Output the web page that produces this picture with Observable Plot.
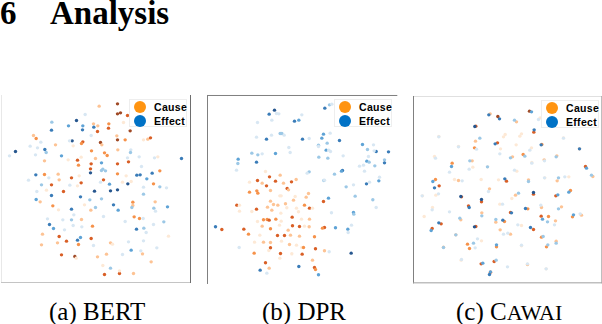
<!DOCTYPE html>
<html><head><meta charset="utf-8">
<script src="https://cdn.jsdelivr.net/npm/d3@7"></script>
<script src="https://cdn.jsdelivr.net/npm/@observablehq/plot@0.6"></script>
<style>
html,body{margin:0;padding:0;background:#fff}
#root{position:relative;width:602px;height:324px;overflow:hidden;font-family:"Liberation Serif",serif;color:#000}
.panel{position:absolute}
.panel svg{overflow:visible;display:block}
.hd{position:absolute;margin:0;top:-3px;font:bold 33px/32px "Liberation Serif",serif;white-space:pre}
.cap{position:absolute;top:297px;font-size:25px;line-height:30px;white-space:nowrap}
.cap small{font-size:.88em}
.legend{position:absolute;background:#fff;border:1px solid #eee;width:58px;height:28px;font:bold 10.5px/14px "Liberation Sans",sans-serif;letter-spacing:.3px;box-sizing:border-box}
.legend div{position:relative;height:14px;padding-left:24px;white-space:nowrap}
.legend i{position:absolute;left:3.5px;top:.5px;width:12.5px;height:12.5px;border-radius:50%}
</style></head><body><div id="root"></div>
<script>
// Projection coordinates and a 1 (weak) to 5 (strong) score per point: [x, y, score]
const bertCause=[[297,47,2],[352,40,5],[352,70,5],[361,67,5],[382,75,4],[280,100,2],[293,106,2],[326,100,3],[325,113,4],[292,123,4],[370,96,1],[390,121,5],[350,136,2],[100,135,2],[108,144,3],[352,148,5],[375,148,3],[430,148,1],[443,146,2],[451,142,4],[248,154,4],[244,159,3],[166,163,2],[301,156,5],[305,163,2],[219,166,1],[274,181,3],[353,178,2],[313,187,3],[321,195,3],[286,204,2],[243,200,1],[204,208,1],[232,209,4],[133,211,2],[235,224,3],[273,220,4],[352,220,4],[385,214,4],[473,199,1],[271,235,4],[479,241,3],[133,252,3],[174,251,2],[352,250,3],[378,256,1],[177,268,2],[214,262,4],[237,256,1],[243,277,4],[310,268,4],[367,275,1],[460,280,3],[232,286,1],[154,283,4],[190,303,4],[139,299,1],[393,273,1],[120,334,2],[158,346,3],[175,358,1],[253,343,1],[272,359,2],[398,335,3],[398,345,2],[465,334,2],[402,379,3],[418,384,3],[244,387,2],[277,407,3],[127,431,2],[177,438,4],[199,452,4],[172,457,2],[124,463,2],[235,462,3],[273,444,4],[331,457,2],[337,461,1],[505,437,1],[184,493,4],[224,498,5],[228,503,1],[292,499,2],[319,491,2],[427,490,2],[453,514,2],[308,525,1],[313,552,4],[358,549,4],[358,541,1],[400,549,2]];
const bertEffect=[[155,95,2],[229,90,5],[205,106,3],[248,106,3],[154,119,4],[247,118,4],[281,110,4],[255,72,1],[273,135,1],[216,151,5],[208,151,1],[122,155,1],[90,167,1],[112,172,1],[134,177,4],[138,186,2],[106,193,1],[46,183,5],[28,196,1],[184,196,3],[392,178,1],[391,186,2],[417,199,1],[463,202,1],[382,202,1],[544,204,4],[424,228,1],[304,217,3],[271,247,5],[304,240,2],[308,236,2],[316,241,2],[107,253,4],[146,262,1],[85,269,1],[124,283,2],[209,284,1],[410,254,4],[420,253,4],[456,248,4],[440,265,3],[383,280,5],[328,281,3],[301,275,1],[479,289,2],[499,292,1],[430,290,1],[283,302,5],[331,301,5],[352,298,5],[430,311,2],[154,315,4],[241,319,4],[108,327,3],[269,328,2],[304,325,2],[110,303,1],[340,343,4],[286,351,2],[214,356,4],[354,359,3],[395,351,2],[461,353,2],[466,362,1],[502,349,3],[221,373,1],[310,378,1],[142,385,1],[188,388,1],[214,388,2],[148,402,4],[160,414,3],[219,405,1],[193,418,1],[245,409,1],[375,393,1],[429,384,1],[491,394,2],[460,402,1],[409,416,4],[431,413,2],[438,426,1],[241,441,3],[232,449,4],[430,451,1],[385,454,1],[280,465,1],[470,472,1],[393,479,3],[422,481,1],[367,492,1],[331,533,2]];
const dprCause=[[196,242,1],[240,253,2],[208,258,4],[172,269,4],[226,271,4],[148,274,1],[186,277,2],[199,285,4],[250,277,2],[274,273,4],[288,266,2],[261,293,4],[265,297,2],[148,304,3],[170,300,3],[173,307,3],[211,299,2],[325,308,2],[318,319,2],[243,315,1],[239,315,1],[285,317,1],[280,328,2],[211,331,2],[220,341,2],[233,343,2],[256,339,2],[110,343,4],[118,343,1],[313,343,3],[370,332,4],[118,361,1],[155,362,1],[169,355,4],[202,349,2],[215,358,2],[260,351,1],[289,352,1],[295,363,1],[328,352,4],[337,352,1],[242,367,1],[276,379,4],[190,387,3],[201,386,3],[207,388,4],[227,385,3],[243,391,1],[304,385,1],[328,385,2],[172,392,1],[186,406,2],[211,414,3],[238,403,1],[277,405,4],[264,418,2],[298,407,4],[313,406,1],[327,408,2],[373,410,4],[367,412,3],[65,416,4],[131,415,4],[145,430,3],[179,433,1],[232,434,4],[253,434,4],[271,433,2],[298,436,2],[343,438,3],[163,454,1],[190,454,2],[211,455,2],[244,451,1],[268,461,2],[289,463,1],[305,470,1],[310,470,3],[211,471,4],[206,479,1],[346,474,4],[373,480,2],[162,487,3],[241,488,4],[275,489,1],[306,490,4],[239,502,1],[337,508,2],[196,516,4],[207,532,2],[343,530,4],[346,536,3]];
const dprEffect=[[223,58,5],[207,70,4],[229,68,1],[236,69,1],[305,72,1],[215,88,1],[283,91,4],[296,88,3],[172,95,1],[388,42,2],[395,40,1],[374,52,4],[169,139,1],[214,133,1],[240,128,2],[245,128,2],[252,133,1],[199,145,4],[307,145,4],[327,143,1],[370,130,3],[390,127,1],[365,142,3],[418,149,4],[381,157,2],[355,163,2],[355,167,1],[487,161,3],[520,162,1],[266,170,1],[270,185,1],[378,178,3],[391,182,1],[386,178,1],[502,176,2],[528,182,4],[522,180,1],[565,183,4],[155,187,2],[173,192,2],[186,189,1],[226,188,3],[114,205,3],[113,218,2],[169,214,4],[356,199,2],[383,202,2],[429,195,1],[505,197,1],[500,211,3],[507,214,2],[553,207,2],[553,216,4],[490,223,1],[524,225,2],[478,226,1],[109,238,1],[327,243,2],[321,247,1],[427,239,4],[424,241,3],[403,250,2],[493,241,1],[371,269,2],[373,268,1],[536,270,3],[538,259,1],[499,279,4],[508,274,1],[438,288,2],[460,282,1],[465,316,2],[385,322,3],[518,327,2],[528,350,1],[394,366,1],[460,365,3],[461,370,2],[46,408,4],[406,411,3],[443,415,3],[454,403,1],[444,425,1],[117,470,1],[387,483,1],[453,487,5],[296,527,4],[180,538,4],[200,547,1],[355,552,3]];
const cawaiCause=[[255,70,2],[278,78,5],[373,62,5],[334,94,2],[405,82,1],[212,107,4],[386,125,4],[101,138,1],[211,152,2],[160,168,1],[277,157,4],[300,132,1],[295,139,1],[349,130,1],[344,137,1],[410,162,3],[475,142,1],[523,175,2],[208,172,3],[286,175,1],[379,172,1],[333,163,1],[322,199,2],[354,192,3],[455,196,2],[88,198,1],[201,211,2],[417,208,2],[380,216,1],[141,218,3],[203,230,1],[247,229,1],[335,242,1],[541,228,4],[563,258,2],[91,267,3],[148,267,1],[160,270,2],[304,272,4],[370,268,2],[419,262,1],[456,271,2],[491,259,1],[102,286,4],[253,295,2],[92,314,1],[52,316,1],[169,319,4],[229,334,4],[385,311,4],[331,314,2],[452,316,4],[496,300,3],[82,351,1],[190,346,4],[284,341,1],[316,366,4],[368,355,3],[409,351,2],[469,349,2],[529,374,2],[230,367,2],[167,388,2],[408,377,4],[430,378,3],[502,379,3],[272,395,2],[298,393,3],[451,391,2],[108,400,4],[212,408,4],[349,405,1],[81,414,4],[385,417,4],[285,418,2],[316,431,2],[152,433,2],[409,440,3],[229,451,1],[453,452,2],[424,469,3],[187,461,3],[193,474,3],[115,470,2],[274,469,3],[349,466,1],[168,509,1],[228,520,4],[267,513,4],[367,522,2],[423,535,1],[256,545,4],[57,378,1],[228,267,1],[280,268,1],[320,324,1]];
const cawaiEffect=[[251,73,4],[283,85,4],[379,64,3],[328,89,2],[400,87,1],[209,108,5],[387,118,4],[101,139,1],[224,143,2],[160,169,1],[270,160,4],[408,163,4],[475,143,1],[523,175,4],[214,176,1],[284,190,1],[374,179,1],[316,202,2],[359,197,2],[453,199,2],[91,203,1],[194,211,2],[418,211,1],[380,218,1],[139,228,3],[133,245,1],[192,236,1],[247,229,2],[328,239,1],[544,233,3],[559,254,2],[83,273,3],[171,271,1],[299,265,4],[370,273,2],[418,262,1],[460,262,2],[479,259,1],[88,292,4],[250,303,1],[100,310,1],[51,316,1],[167,318,5],[229,327,5],[385,306,5],[340,308,2],[458,313,3],[491,305,3],[81,358,1],[192,351,4],[292,341,1],[319,367,4],[361,354,4],[407,344,1],[460,355,2],[525,370,1],[133,364,1],[230,376,2],[164,383,2],[412,386,3],[427,394,2],[505,373,3],[272,387,2],[293,389,4],[448,403,1],[101,397,4],[208,409,5],[338,403,1],[78,420,3],[376,411,4],[295,431,1],[308,428,1],[152,433,2],[414,438,2],[217,445,1],[453,458,2],[428,463,2],[205,458,2],[210,472,1],[115,471,2],[274,463,3],[349,464,1],[169,507,1],[233,518,3],[273,509,2],[367,520,1],[307,529,1],[423,535,1],[256,544,3],[253,552,4]];

const headingNumber="6";
const headingText="Analysis";
const seriesNames=["Cause","Effect"];
const seriesColors=["#ff9411","#0072c6"];
const scoreLevels=["Cause1","Cause2","Cause3","Cause4","Cause5","Effect1","Effect2","Effect3","Effect4","Effect5"];
const scoreColors=["#fde9d6","#fdc394","#f6924a","#d95f26","#a04a26","#d8e7f3","#9cc8e6","#5ea3d6","#3a7cb8","#27578f"];

const panels=[
 {cause:bertCause,effect:bertEffect,caption:"(a) BERT",capLeft:49,
  xd:[4,571],yd:[15,576],left:1.33,top:95,w:189,h:187,leg:[129,99],
  frames:[["left","#e8e8e8"],["bottom","#c4c4c4"],["right","#6e6e6e"]]},
 {cause:dprCause,effect:dprEffect,caption:"(b) DPR",capLeft:262,
  xd:[22,590],yd:[14,578],left:207.33,top:94.67,w:189.33,h:188,leg:[334,99],
  frames:[["left","#808080"],["top","#808080"]]},
 {cause:cawaiCause,effect:cawaiEffect,caption:"(c) C<small>AWAI</small>",capLeft:456,
  xd:[25,590],yd:[18,577],left:413.33,top:96,w:188.33,h:186.33,leg:[541,100],
  frames:[["top","#e0e0e0"],["left","#808080"],["bottom","#a0a0a0"],["right","#a0a0a0"]]}
];
const rows=(a,name)=>a.map(([x,y,s])=>({x,y,level:name+s}));
const root=document.getElementById("root");
[[headingNumber,0],[headingText,50]].forEach(([t,x])=>{const h=document.createElement("div");h.className="hd";h.style.left=x+"px";h.textContent=t;root.append(h)});
for(const p of panels){
  const d=document.createElement("div");d.className="panel";
  d.style.cssText=`left:${p.left}px;top:${p.top}px`;
  const dots=[...rows(p.cause,"Cause"),...rows(p.effect,"Effect")];
  d.append(Plot.plot({
    width:p.w,height:p.h,margin:0,
    x:{domain:p.xd,axis:null},
    y:{domain:p.yd,reverse:true,axis:null},
    color:{type:"ordinal",domain:scoreLevels,range:scoreColors},
    marks:[
      ...p.frames.map(([anchor,stroke])=>Plot.frame({anchor,stroke,strokeWidth:1})),
      Plot.dot(dots,{x:"x",y:"y",r:1.7,fill:"level",stroke:"none"})
    ]
  }));
  root.append(d);
  const l=document.createElement("div");l.className="legend";
  l.style.left=p.leg[0]+"px";l.style.top=p.leg[1]+"px";
  seriesNames.forEach((n,i)=>{const r=document.createElement("div");r.innerHTML=`<i style="background:${seriesColors[i]}"></i>${n}`;l.append(r)});
  root.append(l);
  const c=document.createElement("div");c.className="cap";c.innerHTML=p.caption;c.style.left=p.capLeft+"px";root.append(c);
}
</script></body></html>
